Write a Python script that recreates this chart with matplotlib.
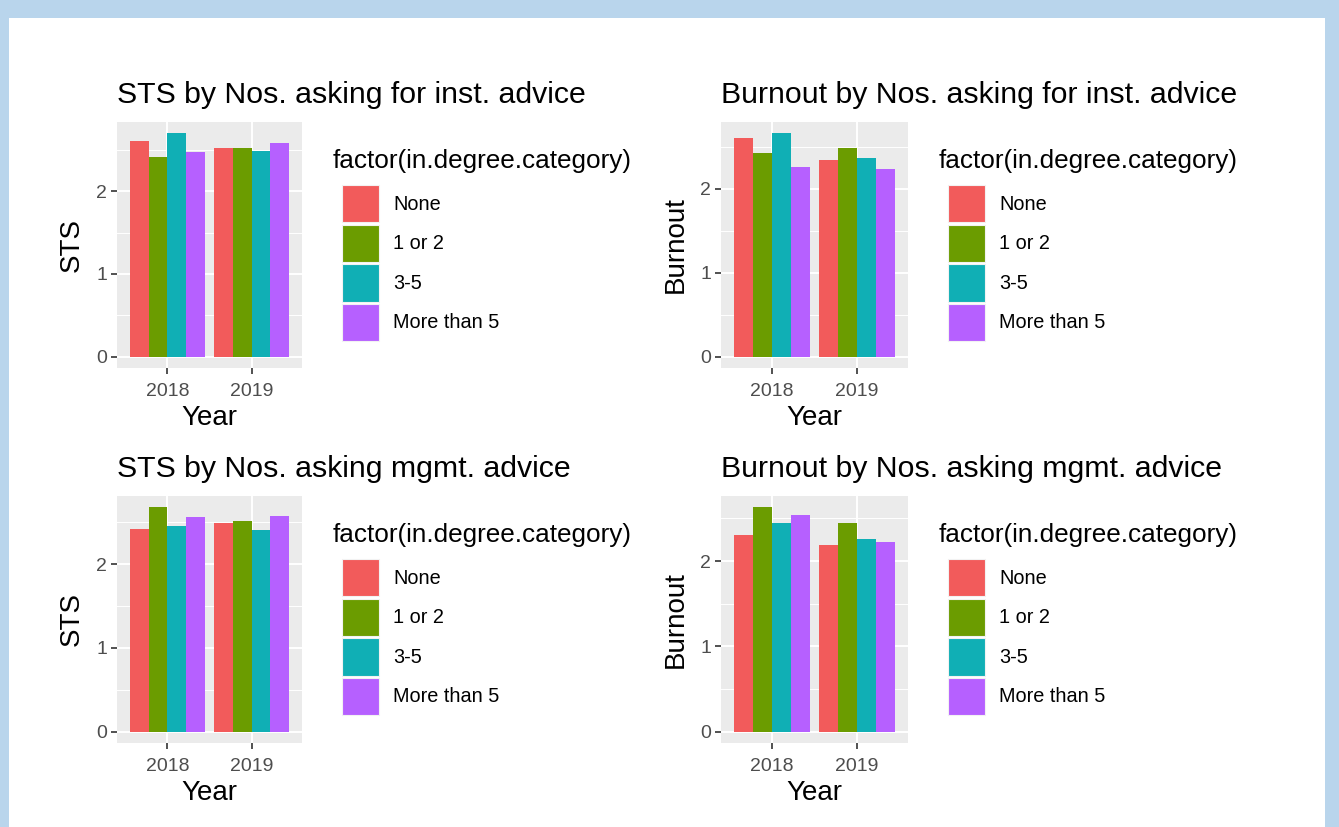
import matplotlib
matplotlib.use('Agg')
import matplotlib.pyplot as plt
import numpy as np
from matplotlib.patches import Patch, Rectangle

plt.rcParams['font.family'] = ['Liberation Sans', 'DejaVu Sans']

years = ['2018', '2019']
categories = ['None', '1 or 2', '3-5', 'More than 5']
colors = ['#F25B5B', '#6B9C00', '#10AFB5', '#B660FF']
legend_title = 'factor(in.degree.category)'

# mean score per category, one list per year
sts_inst_2018 = [2.60, 2.41, 2.70, 2.47]
sts_inst_2019 = [2.52, 2.52, 2.49, 2.58]
burn_inst_2018 = [2.60, 2.42, 2.66, 2.26]
burn_inst_2019 = [2.34, 2.48, 2.37, 2.23]
sts_mgmt_2018 = [2.42, 2.68, 2.45, 2.56]
sts_mgmt_2019 = [2.49, 2.51, 2.41, 2.57]
burn_mgmt_2018 = [2.31, 2.63, 2.45, 2.54]
burn_mgmt_2019 = [2.19, 2.45, 2.26, 2.22]

W, H = 1339, 827
fig = plt.figure(figsize=(W / 100, H / 100), dpi=100)
fig.patch.set_facecolor('#B9D5EC')
fig.patches.append(Rectangle((9 / W, 0), 1316 / W, 1 - 18 / H,
                             transform=fig.transFigure, facecolor='white',
                             edgecolor='none', zorder=-5))

def fx(px):
    return px / W

def fy(py):
    return 1 - py / H

def panel(x0, y0, x1, y1, title, ylabel, v2018, v2019):
    ax = fig.add_axes([fx(x0), fy(y1), (x1 - x0) / W, (y1 - y0) / H])
    ax.set_facecolor('#EBEBEB')
    vals = np.array([v2018, v2019])
    n = len(categories)
    bw = 0.9 / n
    xs = np.arange(1, len(years) + 1)
    for i in range(n):
        ax.bar(xs - 0.45 + bw * (i + 0.5), vals[:, i], width=bw,
               color=colors[i], zorder=3, linewidth=0)
    top = vals.max()
    ax.set_ylim(-0.05 * top, top * 1.05)
    ax.set_xlim(0.4, 2.6)
    ax.set_yticks([0, 1, 2])
    ax.set_yticks([0.5, 1.5, 2.5], minor=True)
    ax.set_xticks(xs)
    ax.set_xticklabels(years)
    ax.set_axisbelow(True)
    ax.grid(True, which='major', color='white', linewidth=1.4)
    ax.grid(True, which='minor', axis='y', color='white', linewidth=0.7)
    ax.tick_params(which='major', length=4, width=1.2, color='#333333',
                   labelcolor='#4D4D4D', labelsize=14, pad=3)
    ax.tick_params(axis='x', which='major', pad=6.5)
    ax.tick_params(which='minor', length=0)
    for s in ax.spines.values():
        s.set_visible(False)
    fig.text(fx(x0), fy(y0 - 19), title, fontsize=21.8, color='black',
             ha='left', va='baseline')
    fig.text(fx((x0 + x1) / 2), fy(y1 + 57), 'Year', fontsize=20,
             ha='center', va='baseline')
    fig.text(fx(x0 - 45), fy((y0 + y1) / 2), ylabel, fontsize=20,
             rotation=90, ha='center', va='center')

    # legend: title as plain text, keys as a title-less legend below it
    fig.text(fx(x1 + 31), fy(y0 + 46), legend_title, fontsize=18.8,
             ha='left', va='baseline')
    handles = [Patch(facecolor=c, edgecolor='#F2F2F2', linewidth=0.8) for c in colors]
    ax.legend(handles, categories, loc='upper left',
              bbox_to_anchor=(fx(x1 + 40), fy(y0 + 63)),
              bbox_transform=fig.transFigure, frameon=False,
              fontsize=14.3, handlelength=1.87, handleheight=2.52,
              labelspacing=0.11, handletextpad=0.72, borderpad=0,
              borderaxespad=0)
    return ax

panel(117, 122, 302, 368, 'STS by Nos. asking for inst. advice', 'STS',
      sts_inst_2018, sts_inst_2019)
panel(721, 122, 908, 368, 'Burnout by Nos. asking for inst. advice', 'Burnout',
      burn_inst_2018, burn_inst_2019)
panel(117, 496, 302, 743, 'STS by Nos. asking mgmt. advice', 'STS',
      sts_mgmt_2018, sts_mgmt_2019)
panel(721, 496, 908, 743, 'Burnout by Nos. asking mgmt. advice', 'Burnout',
      burn_mgmt_2018, burn_mgmt_2019)

fig.savefig('out.png', dpi=100, facecolor=fig.get_facecolor())
